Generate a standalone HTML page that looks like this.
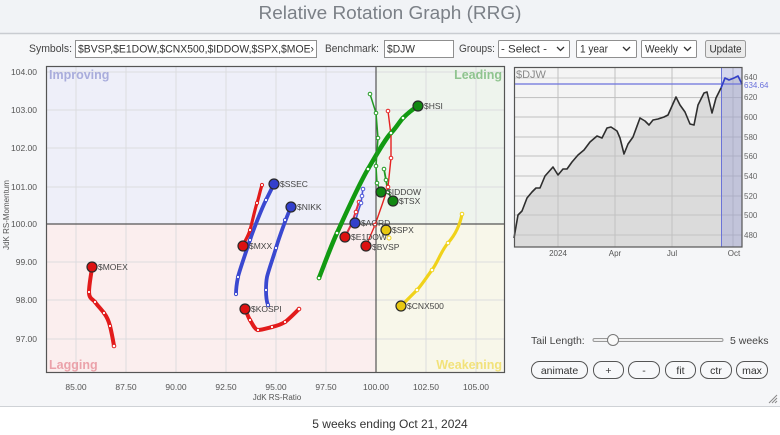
<!DOCTYPE html>
<html><head><meta charset="utf-8"><style>
html,body{margin:0;padding:0;background:#f5f6f8;}
svg{display:block;font-family:"Liberation Sans",Arial,sans-serif;}
</style></head><body>
<svg width="780" height="435" viewBox="0 0 780 435" xmlns="http://www.w3.org/2000/svg">
<!-- backgrounds -->
<rect x="0" y="0" width="780" height="435" fill="#f5f6f8"/>
<rect x="0" y="0" width="780" height="33" fill="#f1f3f6"/>
<line x1="0" y1="33.5" x2="780" y2="33.5" stroke="#c9ccd1" stroke-width="1.5"/>
<rect x="0" y="406" width="780" height="29" fill="#ffffff"/>
<line x1="0" y1="406.5" x2="780" y2="406.5" stroke="#cfd2d6" stroke-width="1"/>

<!-- title -->
<text x="390" y="19" font-size="18" fill="#7b8087" text-anchor="middle" textLength="263" lengthAdjust="spacingAndGlyphs">Relative Rotation Graph (RRG)</text>

<!-- toolbar -->
<g font-size="11" fill="#444">
<text x="29" y="52" textLength="43" lengthAdjust="spacingAndGlyphs">Symbols:</text>
<rect x="75.5" y="40.5" width="241" height="17" fill="#fff" stroke="#8f8f8f"/>
<text x="78" y="52.5" fill="#333" textLength="236" lengthAdjust="spacingAndGlyphs">$BVSP,$E1DOW,$CNX500,$IDDOW,$SPX,$MOE›</text>
<text x="325" y="52" textLength="54" lengthAdjust="spacingAndGlyphs">Benchmark:</text>
<rect x="384.5" y="40.5" width="69" height="17" fill="#fff" stroke="#8f8f8f"/>
<text x="387" y="52.5" fill="#333" textLength="28" lengthAdjust="spacingAndGlyphs">$DJW</text>
<text x="459" y="52" textLength="36" lengthAdjust="spacingAndGlyphs">Groups:</text>
<rect x="498.5" y="40.5" width="71" height="17" fill="#fff" stroke="#8f8f8f" rx="1"/>
<text x="501" y="52.5" fill="#333" textLength="46" lengthAdjust="spacingAndGlyphs">- Select -</text>
<path d="M557 47 l3.5 3.5 l3.5 -3.5" fill="none" stroke="#333" stroke-width="1.3"/>
<rect x="576.5" y="40.5" width="60" height="17" fill="#fff" stroke="#8f8f8f" rx="1"/>
<text x="580" y="52.5" fill="#333" textLength="28" lengthAdjust="spacingAndGlyphs">1 year</text>
<path d="M623 47 l3.5 3.5 l3.5 -3.5" fill="none" stroke="#333" stroke-width="1.3"/>
<rect x="641.5" y="40.5" width="55" height="17" fill="#fff" stroke="#8f8f8f" rx="1"/>
<text x="645" y="52.5" fill="#333" textLength="33" lengthAdjust="spacingAndGlyphs">Weekly</text>
<path d="M684 47 l3.5 3.5 l3.5 -3.5" fill="none" stroke="#333" stroke-width="1.3"/>
<rect x="705.5" y="40.5" width="40" height="17" fill="#ebebeb" stroke="#9a9a9a" rx="2"/>
<text x="725.5" y="52.5" fill="#333" text-anchor="middle" textLength="32" lengthAdjust="spacingAndGlyphs">Update</text>
</g>

<!-- main plot quadrants -->
<rect x="46" y="66" width="330" height="158" fill="#eeeff9"/>
<rect x="376" y="66" width="129" height="158" fill="#eef4ed"/>
<rect x="46" y="224" width="330" height="149" fill="#fbeeee"/>
<rect x="376" y="224" width="129" height="149" fill="#f8f7ea"/>
<!-- grid -->
<g stroke="#dcdcdf" stroke-width="1">
<line x1="76" y1="66" x2="76" y2="373"/><line x1="126" y1="66" x2="126" y2="373"/>
<line x1="176" y1="66" x2="176" y2="373"/><line x1="226" y1="66" x2="226" y2="373"/>
<line x1="276" y1="66" x2="276" y2="373"/><line x1="326" y1="66" x2="326" y2="373"/>
<line x1="426" y1="66" x2="426" y2="373"/><line x1="476" y1="66" x2="476" y2="373"/>
<line x1="46" y1="72" x2="505" y2="72"/><line x1="46" y1="110" x2="505" y2="110"/>
<line x1="46" y1="148" x2="505" y2="148"/><line x1="46" y1="187" x2="505" y2="187"/>
<line x1="46" y1="262" x2="505" y2="262"/><line x1="46" y1="300" x2="505" y2="300"/>
<line x1="46" y1="339" x2="505" y2="339"/>
</g>
<line x1="376" y1="66" x2="376" y2="373" stroke="#555" stroke-width="1.2"/>
<line x1="46" y1="224" x2="505" y2="224" stroke="#555" stroke-width="1.2"/>
<rect x="46.5" y="66.5" width="458" height="306" fill="none" stroke="#555" stroke-width="1.2"/>

<!-- quadrant labels -->
<g font-size="12.5" font-weight="bold">
<text x="49" y="79" fill="#a9addc">Improving</text>
<text x="502" y="79" fill="#8fc48f" text-anchor="end">Leading</text>
<text x="49" y="369" fill="#eba2aa">Lagging</text>
<text x="502" y="369" fill="#f2e27a" text-anchor="end">Weakening</text>
</g>

<!-- y tick labels -->
<g font-size="8.5" fill="#555" text-anchor="end">
<text x="37" y="75">104.00</text><text x="37" y="113">103.00</text>
<text x="37" y="151">102.00</text><text x="37" y="190">101.00</text>
<text x="37" y="227">100.00</text><text x="37" y="265">99.00</text>
<text x="37" y="303">98.00</text><text x="37" y="342">97.00</text>
</g>
<text transform="translate(9,215) rotate(-90)" font-size="8" fill="#555" text-anchor="middle">JdK RS-Momentum</text>
<!-- x tick labels -->
<g font-size="8.5" fill="#555" text-anchor="middle">
<text x="76" y="390">85.00</text><text x="126" y="390">87.50</text>
<text x="176" y="390">90.00</text><text x="226" y="390">92.50</text>
<text x="276" y="390">95.00</text><text x="326" y="390">97.50</text>
<text x="376" y="390">100.00</text><text x="426" y="390">102.50</text>
<text x="476" y="390">105.00</text>
<text x="277" y="400" font-size="8">JdK RS-Ratio</text>
</g>

<!-- series tails -->
<g fill="none" stroke-linecap="round" stroke-linejoin="round">
<path d="M319,278 C326,260 331,246 337,233 S358,186 368,169 S386,138 391,133 S400,121 403,118 S413,109 418,106" stroke="#129a12" stroke-width="4.5"/>
<polyline points="370,94 376,113 378,138 376,166 377,183 381,192" stroke="#229a22" stroke-width="1.5"/>
<polyline points="384,169 386,180 388,192 393,201" stroke="#229a22" stroke-width="1.8"/>
<polyline points="388,111 391,135 391,158 388,187 382,205 375,225 366,246" stroke="#e52222" stroke-width="1.4"/>
<polyline points="359,202 357,208 355,214 351,225 345,237" stroke="#e0304a" stroke-width="2"/>
<polyline points="363,188 362,196 361,203 358,212 355,223" stroke="#4a55d8" stroke-width="1.6"/>
<polyline points="389,238 386,230" stroke="#f0dc55" stroke-width="2"/>
<path d="M462,214 C460,225 455,235 448,243 S438,262 432,270 S421,286 417,290 S405,302 401,306" stroke="#f0d21a" stroke-width="3.2"/>
<path d="M236,294 C236,288 237,282 238,277 S246,252 250,240 S262,208 266,200 S272,188 274,184" stroke="#3a48d0" stroke-width="3.8"/>
<path d="M268,305 C266,300 266,295 266,290 S266,282 267,277 S274,255 276,248 S286,218 291,207" stroke="#3a48d0" stroke-width="3.8"/>
<path d="M262,185 C260,191 259,197 257,203 S252,223 250,230 S245,240 243,246" stroke="#e21b1b" stroke-width="3.2"/>
<path d="M245,309 C247,313 248,317 250,320 S255,330 258,330 S268,328 272,327 S282,324 285,322 S295,313 299,309" stroke="#e21b1b" stroke-width="4"/>
<path d="M92,267 C91,276 89,285 89,292 S93,299 95,302 S101,309 104,313 S109,322 110,326 S113,340 114,346" stroke="#e21b1b" stroke-width="4"/>
</g>

<!-- tail markers -->
<g fill="#fff" stroke-width="1">
<g stroke="#129a12"><circle cx="319" cy="278" r="1.8"/><circle cx="337" cy="233" r="1.8"/><circle cx="368" cy="169" r="1.8"/><circle cx="391" cy="133" r="1.8"/><circle cx="403" cy="118" r="1.8"/></g>
<g stroke="#229a22"><circle cx="370" cy="94" r="1.8"/><circle cx="376" cy="113" r="1.8"/><circle cx="378" cy="138" r="1.8"/><circle cx="376" cy="166" r="1.8"/><circle cx="377" cy="183" r="1.8"/><circle cx="384" cy="169" r="1.8"/><circle cx="386" cy="180" r="1.8"/><circle cx="388" cy="192" r="1.8"/></g>
<g stroke="#e52222"><circle cx="388" cy="111" r="1.8"/><circle cx="391" cy="158" r="1.8"/><circle cx="388" cy="187" r="1.8"/><circle cx="375" cy="225" r="1.8"/><circle cx="359" cy="202" r="1.8"/><circle cx="356" cy="212" r="1.8"/></g>
<g stroke="#4a55d8"><circle cx="363" cy="189" r="1.8"/><circle cx="362" cy="196" r="1.8"/><circle cx="361" cy="203" r="1.8"/></g>
<g stroke="#f0d21a"><circle cx="462" cy="214" r="1.8"/><circle cx="448" cy="243" r="1.8"/><circle cx="432" cy="270" r="1.8"/><circle cx="417" cy="290" r="1.8"/><circle cx="389" cy="238" r="2"/></g>
<g stroke="#3a48d0"><circle cx="236" cy="294" r="1.6"/><circle cx="238" cy="277" r="1.6"/><circle cx="250" cy="240" r="1.6"/><circle cx="266" cy="200" r="1.6"/><circle cx="268" cy="305" r="1.6"/><circle cx="266" cy="290" r="1.6"/><circle cx="276" cy="248" r="1.6"/><circle cx="285" cy="220" r="1.6"/></g>
<g stroke="#e21b1b"><circle cx="262" cy="185" r="1.6"/><circle cx="257" cy="203" r="1.6"/><circle cx="250" cy="230" r="1.6"/><circle cx="250" cy="320" r="1.6"/><circle cx="258" cy="330" r="1.6"/><circle cx="272" cy="327" r="1.6"/><circle cx="285" cy="322" r="1.6"/><circle cx="299" cy="309" r="1.8"/><circle cx="89" cy="292" r="1.6"/><circle cx="95" cy="302" r="1.6"/><circle cx="104" cy="313" r="1.6"/><circle cx="110" cy="326" r="1.6"/><circle cx="114" cy="346" r="1.8"/></g>
</g>

<!-- heads -->
<g stroke="#2a2a2a" stroke-width="1.2">
<circle cx="418" cy="106" r="5" fill="#118811"/>
<circle cx="381" cy="192" r="5" fill="#118811"/>
<circle cx="393" cy="201" r="5" fill="#118811"/>
<circle cx="355" cy="223" r="5" fill="#3340cc"/>
<circle cx="386" cy="230" r="5" fill="#e8c810"/>
<circle cx="345" cy="237" r="5" fill="#dd1111"/>
<circle cx="366" cy="246" r="5" fill="#dd1111"/>
<circle cx="401" cy="306" r="5" fill="#e8c810"/>
<circle cx="274" cy="184" r="5" fill="#3340cc"/>
<circle cx="291" cy="207" r="5" fill="#3340cc"/>
<circle cx="243" cy="246" r="5" fill="#dd1111"/>
<circle cx="245" cy="309" r="5" fill="#dd1111"/>
<circle cx="92" cy="267" r="5" fill="#dd1111"/>
</g>

<!-- head labels -->
<g font-size="8.5" fill="#444">
<text x="424" y="109">$HSI</text>
<text x="387" y="195">$IDDOW</text>
<text x="399" y="204">$TSX</text>
<text x="361" y="226">$AORD</text>
<text x="392" y="233">$SPX</text>
<text x="351" y="240">$E1DOW</text>
<text x="372" y="250">$BVSP</text>
<text x="407" y="309">$CNX500</text>
<text x="280" y="187">$SSEC</text>
<text x="297" y="210">$NIKK</text>
<text x="249" y="249">$MXX</text>
<text x="251" y="312">$KOSPI</text>
<text x="98" y="270">$MOEX</text>
</g>

<!-- mini chart -->
<rect x="514" y="67" width="228" height="180" fill="#f4f4f4"/>
<g stroke="#cfcfcf" stroke-width="1">
<line x1="514" y1="78" x2="742" y2="78"/><line x1="514" y1="97.6" x2="742" y2="97.6"/>
<line x1="514" y1="117" x2="742" y2="117"/><line x1="514" y1="137" x2="742" y2="137"/>
<line x1="514" y1="156" x2="742" y2="156"/><line x1="514" y1="176" x2="742" y2="176"/>
<line x1="514" y1="196" x2="742" y2="196"/><line x1="514" y1="215" x2="742" y2="215"/>
<line x1="514" y1="235" x2="742" y2="235"/>
<line x1="558" y1="67" x2="558" y2="247"/><line x1="615" y1="67" x2="615" y2="247"/>
<line x1="672" y1="67" x2="672" y2="247"/><line x1="733" y1="67" x2="733" y2="247"/>
</g>
<polygon fill="#d6d6d6" fill-opacity="0.85" points="514,238 518,215 522,211 527,198 532,192 536,188 540,188 545,176 553,167 558,175 563,169 567,169 572,162 578,155 584,150 590,142 597,136 602,138 607,128 611,127 617,131 620,138 624,154 628,144 633,137 640,118 645,121 649,125 653,120 658,119 664,117 668,115 676,97 680,105 685,112 690,124 694,125 698,105 704,93 707,92 712,113 716,98 721,88 725,78 729,80 734,78 738,76 742,84 742,247 514,247"/>
<g stroke="#bdbdbd" stroke-width="0.8">
<line x1="514" y1="97.6" x2="742" y2="97.6"/><line x1="514" y1="117" x2="742" y2="117"/>
<line x1="514" y1="137" x2="742" y2="137"/><line x1="514" y1="156" x2="742" y2="156"/>
<line x1="514" y1="176" x2="742" y2="176"/><line x1="514" y1="196" x2="742" y2="196"/>
<line x1="514" y1="215" x2="742" y2="215"/><line x1="514" y1="235" x2="742" y2="235"/>
<line x1="558" y1="67" x2="558" y2="247"/><line x1="615" y1="67" x2="615" y2="247"/>
<line x1="672" y1="67" x2="672" y2="247"/><line x1="733" y1="67" x2="733" y2="247"/>
</g>
<rect x="721" y="67" width="21" height="180" fill="#6a73d8" fill-opacity="0.22"/>
<line x1="721.5" y1="67" x2="721.5" y2="247" stroke="#6a73d8" stroke-width="1"/>
<line x1="514" y1="84" x2="742" y2="84" stroke="#6b72dc" stroke-width="1.3"/>
<polyline fill="none" stroke="#2e2e2e" stroke-width="1.6" stroke-linejoin="round" points="514,238 518,215 522,211 527,198 532,192 536,188 540,188 545,176 553,167 558,175 563,169 567,169 572,162 578,155 584,150 590,142 597,136 602,138 607,128 611,127 617,131 620,138 624,154 628,144 633,137 640,118 645,121 649,125 653,120 658,119 664,117 668,115 676,97 680,105 685,112 690,124 694,125 698,105 704,93 707,92 712,113 716,98 721,88"/>
<polyline fill="none" stroke="#3440c8" stroke-width="1.7" stroke-linejoin="round" points="721,88 725,78 729,80 734,78 738,76 742,84"/>
<rect x="514.5" y="67.5" width="227.5" height="179.5" fill="none" stroke="#555" stroke-width="1.2"/>
<text x="516" y="78" font-size="11" fill="#8a8a8a">$DJW</text>
<g font-size="8" fill="#666">
<text x="744" y="80">640</text><text x="744" y="100">620</text>
<text x="744" y="120">600</text><text x="744" y="140">580</text>
<text x="744" y="159">560</text><text x="744" y="179">540</text>
<text x="744" y="199">520</text><text x="744" y="218">500</text>
<text x="744" y="238">480</text>
<text x="744" y="88" fill="#6b72dc">634.64</text>
</g>
<g font-size="8" fill="#555" text-anchor="middle">
<text x="558" y="256">2024</text><text x="615" y="256">Apr</text>
<text x="672" y="256">Jul</text><text x="734" y="256">Oct</text>
</g>

<!-- tail length slider -->
<text x="531" y="344" font-size="10.5" fill="#444">Tail Length:</text>
<rect x="593" y="338.5" width="130" height="3" fill="#eee" stroke="#999" stroke-width="1" rx="1.5"/>
<circle cx="613" cy="340" r="5.5" fill="#fafafa" stroke="#777" stroke-width="1"/>
<text x="730" y="344" font-size="10.5" fill="#444">5 weeks</text>

<!-- buttons -->
<g fill="#f7f8fa" stroke="#555" stroke-width="1">
<rect x="531.5" y="361.5" width="56" height="17" rx="8"/>
<rect x="593.5" y="361.5" width="30" height="17" rx="8"/>
<rect x="628.5" y="361.5" width="31" height="17" rx="8"/>
<rect x="665.5" y="361.5" width="30" height="17" rx="8"/>
<rect x="700.5" y="361.5" width="31" height="17" rx="8"/>
<rect x="736.5" y="361.5" width="31" height="17" rx="8"/>
</g>
<g font-size="10.5" fill="#333" text-anchor="middle">
<text x="559.5" y="374">animate</text>
<text x="608.5" y="374">+</text>
<text x="644" y="374">-</text>
<text x="680.5" y="374">fit</text>
<text x="716" y="374">ctr</text>
<text x="752" y="374">max</text>
</g>
<!-- resize handle -->
<g stroke="#888" stroke-width="1">
<line x1="769" y1="403" x2="777" y2="395"/><line x1="772" y1="403" x2="777" y2="398"/>
<line x1="775" y1="403" x2="777" y2="401"/>
</g>

<!-- footer -->
<text x="390" y="428" font-size="12" fill="#333" text-anchor="middle">5 weeks ending Oct 21, 2024</text>
</svg>
</body></html>
